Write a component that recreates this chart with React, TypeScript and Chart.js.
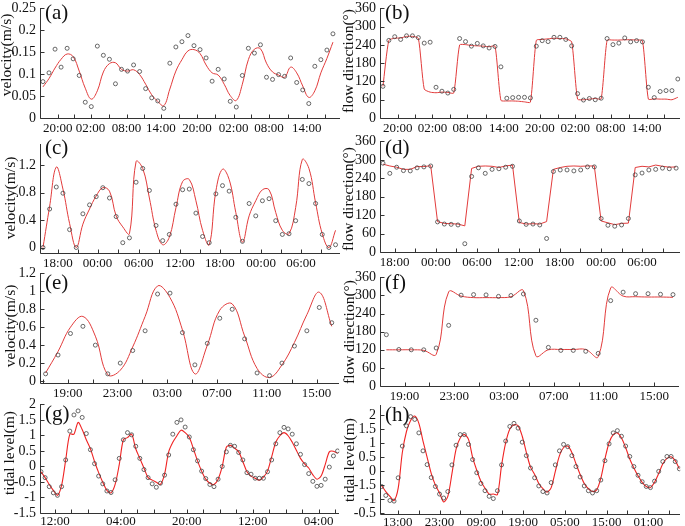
import React, { useEffect, useRef } from "react";
import { Chart, registerables } from "chart.js";
Chart.register(...registerables);

// ---------- (a) velocity ----------
const aObs = [0.083,0.103,0.157,0.116,0.159,0.135,0.097,0.036,0.026,0.164,0.143,0.134,0.078,0.111,0.107,0.121,0.106,0.067,0.046,0.039,0.022,0.125,0.162,0.174,0.188,0.165,0.156,0.137,0.084,0.111,0.089,0.038,0.025,0.097,0.159,0.148,0.167,0.093,0.088,0.099,0.095,0.137,0.081,0.064,0.033,0.118,0.133,0.155,0.192];
const aModel = [0.071,0.09,0.114,0.134,0.146,0.140,0.107,0.068,0.043,0.062,0.105,0.124,0.126,0.111,0.107,0.110,0.099,0.077,0.053,0.038,0.028,0.066,0.107,0.133,0.153,0.156,0.147,0.121,0.103,0.098,0.077,0.051,0.040,0.077,0.133,0.157,0.158,0.125,0.105,0.098,0.093,0.116,0.103,0.073,0.047,0.062,0.103,0.136,0.173];
const aTickPos = [2.44, 7.87, 13.83, 19.52, 25.49, 31.56, 37.42, 43.66];
const aTickLabels = ["20:00","02:00","08:00","14:00","20:00","02:00","08:00","14:00"];
const aYTicks = [0, 0.05, 0.1, 0.15, 0.2, 0.25];

// ---------- (b) flow direction ----------
const bObs = [104,255,267,258,270,270,264,246,249,101,88,82,94,261,251,236,245,237,230,235,168,65,67,68,68,66,236,254,251,265,265,258,237,80,59,64,60,65,261,241,246,263,250,254,250,101,67,87,90,90,128];
const bModel = [104,255,262,263,268,268,262,95,85,83,85,84,82,240,241,238,237,236,234,236,58,56,56,55,53,52,255,258,260,262,261,260,250,62,60,62,64,63,255,256,256,257,257,256,254,62,63,62,62,60,68];
const bTickPos = [2.5, 8.4, 14.3, 20.5, 26.6, 32.6, 38.6, 44.7];
const bTickLabels = ["20:00","02:00","08:00","14:00","20:00","02:00","08:00","14:00"];
const dirYTicks = [0, 60, 120, 180, 240, 300, 360];

// ---------- (c) velocity ----------
const cObs = [0.0,0.56,0.88,0.79,0.26,0.0,0.49,0.62,0.74,0.87,0.72,0.45,0.07,0.14,0.95,1.15,0.83,0.32,0.10,0.19,0.63,0.84,0.85,0.50,0.16,0.07,0.78,0.90,0.82,0.44,0.09,0.64,0.46,0.68,0.71,0.39,0.19,0.20,0.39,0.99,0.93,0.64,0.19,0.0,0.04];
const cModel = [0.0,0.6,1.17,0.85,0.35,0.0,0.34,0.56,0.75,0.87,0.82,0.46,0.30,0.20,1.25,1.15,0.72,0.25,0.04,0.15,0.58,0.96,0.99,0.68,0.25,0.04,0.82,1.14,0.99,0.51,0.08,0.46,0.68,0.84,0.84,0.51,0.25,0.20,0.58,1.28,1.15,0.65,0.20,0.0,0.25];
const cTickPos = [2.24, 8.2, 14.4, 20.6, 26.6, 32.8, 38.8];
const cTickLabels = ["18:00","00:00","06:00","12:00","18:00","00:00","06:00"];
const cYTicks = [0, 0.4, 0.8, 1.2];

// ---------- (d) flow direction ----------
const dObs = [289,256,276,265,264,274,277,280,98,91,90,88,27,246,274,256,269,271,276,279,101,90,91,88,44,262,267,267,264,267,277,277,109,87,84,88,109,251,257,267,269,273,271,273];
const dModel = [286,280,276,269,269,278,278,281,99,93,92,91,85,272,279,280,279,275,280,283,96,91,92,91,99,269,275,279,280,279,280,280,101,95,89,93,94,275,279,277,283,279,276,277];
const dTickPos = [1.7, 7.75, 13.8, 19.9, 25.9, 32.0, 38.0];
const dTickLabels = ["18:00","00:00","06:00","12:00","18:00","00:00","06:00"];

// ---------- (e) velocity ----------
const eObs = [0.08,0.29,0.53,0.61,0.40,0.08,0.20,0.34,0.56,0.97,0.98,0.54,0.18,0.42,0.70,0.80,0.47,0.09,0.06,0.20,0.39,0.56,0.82,0.65];
const eModel = [0.09,0.33,0.60,0.72,0.50,0.07,0.12,0.38,0.72,1.06,0.93,0.57,0.08,0.40,0.79,0.86,0.50,0.14,0.04,0.18,0.43,0.74,0.99,0.61];
const eTickPos = [1.78, 5.78, 9.78, 13.78, 17.78, 21.78];
const eTickLabels = ["19:00","23:00","03:00","07:00","11:00","15:00"];
const eYTicks = [0, 0.2, 0.4, 0.6, 0.8, 1, 1.2];

// ---------- (f) flow direction ----------
const fObs = [170,121,120,120,126,201,301,303,302,297,300,305,218,128,118,118,115,108,283,311,306,306,304,303];
const fModel = [120,120,120,118,105,312,298,293,293,293,296,316,100,120,121,121,121,97,325,298,296,295,295,294];
const fTickPos = [1.46, 5.45, 9.44, 13.43, 17.42, 21.5];
const fTickLabels = ["19:00","23:00","03:00","07:00","11:00","15:00"];

// ---------- (g) tidal level ----------
const gObs = [-0.17,-0.36,-0.65,-0.85,-0.93,-0.65,0.21,1.14,1.66,1.79,1.58,1.06,0.54,0.09,-0.31,-0.56,-0.79,-0.84,-0.43,0.26,0.86,1.09,1.02,0.65,0.26,-0.10,-0.36,-0.56,-0.67,-0.54,-0.28,0.37,1.04,1.42,1.50,1.27,0.95,0.54,0.18,-0.15,-0.39,-0.58,-0.65,-0.41,0.00,0.47,0.68,0.65,0.45,0.21,-0.20,-0.25,-0.38,-0.38,-0.38,-0.17,0.21,0.73,1.09,1.26,1.21,1.04,0.73,0.39,0.06,-0.23,-0.48,-0.64,-0.61,-0.41,-0.02,0.34,0.50];
const gModel = [-0.17,-0.36,-0.58,-0.77,-0.93,-0.61,0.21,1.04,1.04,1.42,1.19,0.86,0.57,0.16,-0.20,-0.51,-0.77,-0.85,-0.58,0.06,0.86,0.93,1.04,0.57,0.26,-0.05,-0.36,-0.44,-0.51,-0.58,-0.25,0.47,0.78,0.99,1.17,1.09,0.94,0.57,0.18,-0.15,-0.41,-0.54,-0.58,-0.41,0.00,0.62,0.68,0.59,0.47,0.16,-0.17,-0.31,-0.38,-0.44,-0.34,-0.15,0.31,0.78,0.99,1.09,0.99,0.78,0.52,0.26,0.08,-0.05,-0.27,-0.41,-0.31,0.06,0.47,0.49,0.42];
const gTickPos = [3.4, 19.4, 35.4, 51.4, 67.4];
const gTickLabels = ["12:00","04:00","20:00","12:00","04:00"];
const tideYTicks = [-1.5, -1, -0.5, 0, 0.5, 1, 1.5, 2];

// ---------- (h) tidal level ----------
const hObs = [-0.54,-0.86,-1.04,-1.06,-0.23,0.90,1.62,1.95,1.85,1.37,0.73,0.24,-0.22,-0.54,-0.81,-0.95,-0.72,0.23,0.93,1.31,1.31,0.96,0.42,-0.05,-0.43,-0.69,-0.89,-0.97,-0.69,0.23,1.08,1.60,1.71,1.54,1.04,0.56,0.12,-0.23,-0.52,-0.72,-0.77,-0.40,0.23,0.73,0.96,0.88,0.56,0.17,-0.20,-0.52,-0.69,-0.77,-0.69,-0.31,0.38,0.98,1.37,1.45,1.25,0.90,0.53,0.17,-0.14,-0.37,-0.54,-0.58,-0.35,0.00,0.35,0.53,0.53,0.35,0.09];
const hModel = [-0.51,-0.72,-0.89,-1.04,-0.60,0.67,1.42,1.81,1.97,1.71,1.08,0.50,-0.08,-0.49,-0.77,-1.09,-0.89,-0.08,0.79,1.19,1.31,1.14,0.50,0.04,-0.35,-0.60,-0.81,-0.81,-0.83,0.21,1.02,1.51,1.66,1.62,1.25,0.67,0.15,-0.11,-0.43,-0.62,-0.74,-0.58,0.00,0.56,0.85,0.90,0.67,0.27,-0.11,-0.43,-0.62,-0.72,-0.66,-0.25,0.44,1.02,1.31,1.37,1.19,0.85,0.44,0.12,-0.16,-0.39,-0.54,-0.58,-0.39,-0.08,0.27,0.46,0.52,0.38,0.09];
const hTickPos = [3.9, 14.0, 24.1, 34.2, 44.3, 54.4, 64.5];
const hTickLabels = ["13:00","23:00","09:00","19:00","05:00","15:00","01:00"];
const hYTickLabels = ["-0.5","-1","-1.5","0","0.5","1","1.5","2"];

const FONT = '"Liberation Serif", "Times New Roman", serif';
const TEXT = "#111";
const AXIS = "#333";

const PAD_L = 40, PAD_T = 10, PAD_R = 2, PAD_B = 24;

const PANELS = [
  { letter: "(a)", L: 40, R: 343, T: 6, B: 118, xMin: -0.49, xMax: 49.2, yMin: 0, yMax: 0.25, yTicks: aYTicks, yLabels: null, xPos: aTickPos, xLabels: aTickLabels, per: 1, obs: aObs, model: aModel, tension: 0.4, red: "#e23b3b", lw: 1, title: "velocity(m/s)", tx: 7, ty: 55, ldy: 5, xpad: 3 },
  { letter: "(b)", L: 380, R: 683, T: 6, B: 118, xMin: -0.5, xMax: 50.4, yMin: 0, yMax: 360, yTicks: dirYTicks, yLabels: null, xPos: bTickPos, xLabels: bTickLabels, per: 1, obs: bObs, model: bModel, tension: 0.2, red: "#e23b3b", lw: 1, title: "flow direction(°)", tx: 349, ty: 61, ldy: 5, xpad: 3 },
  { letter: "(c)", L: 40, R: 343, T: 142, B: 253, xMin: -0.45, xMax: 44.7, yMin: -0.08, yMax: 1.5, yTicks: cYTicks, yLabels: null, xPos: cTickPos, xLabels: cTickLabels, per: 1, obs: cObs, model: cModel, tension: 0.4, red: "#e23b3b", lw: 1, title: "velocity(m/s)", tx: 11, ty: 198, ldy: 4, xpad: 3 },
  { letter: "(d)", L: 380, R: 683, T: 139, B: 252, xMin: -0.44, xMax: 43.6, yMin: 0, yMax: 360, yTicks: dirYTicks, yLabels: null, xPos: dTickPos, xLabels: dTickLabels, per: 1, obs: dObs, model: dModel, tension: 0, red: "#e23b3b", lw: 1, title: "flow direction(°)", tx: 349, ty: 199, ldy: 7, xpad: 3 },
  { letter: "(e)", L: 40, R: 342, T: 271, B: 383, xMin: -0.45, xMax: 23.6, yMin: -0.022, yMax: 1.2, yTicks: eYTicks, yLabels: null, xPos: eTickPos, xLabels: eTickLabels, per: 1, obs: eObs, model: eModel, tension: 0.4, red: "#e23b3b", lw: 1, title: "velocity(m/s)", tx: 11, ty: 326, ldy: 10, xpad: 3 },
  { letter: "(f)", L: 380, R: 682, T: 275, B: 386, xMin: -0.51, xMax: 23.5, yMin: 0, yMax: 360, yTicks: dirYTicks, yLabels: null, xPos: fTickPos, xLabels: fTickLabels, per: 1, obs: fObs, model: fModel, tension: 0.4, red: "#e23b3b", lw: 1, title: "flow direction(°)", tx: 350, ty: 332, ldy: 6, xpad: 3 },
  { letter: "(g)", L: 40, R: 342, T: 402, B: 513, xMin: -0.24, xMax: 72.4, yMin: -1.5, yMax: 2, yTicks: tideYTicks, yLabels: null, xPos: gTickPos, xLabels: gTickLabels, per: 3, obs: gObs, model: gModel, tension: 0.3, red: "#f02323", lw: 1.1, title: "tidal level(m)", tx: 10, ty: 453, ldy: 10, xpad: 1 },
  { letter: "(h)", L: 380, R: 683, T: 403, B: 514, xMin: -0.4, xMax: 72.2, yMin: -1.52, yMax: 2.35, yTicks: tideYTicks, yLabels: hYTickLabels, xPos: hTickPos, xLabels: hTickLabels, per: 1, obs: hObs, model: hModel, tension: 0.3, red: "#f02323", lw: 1.1, title: "tidal level(m)", tx: 350, ty: 460, ldy: 10, xpad: 1 },
];

function buildMarks(majors: number[], per: number, min: number, max: number) {
  const out: number[] = [];
  const avg = (majors[majors.length - 1] - majors[0]) / (majors.length - 1);
  const step = avg / (per + 1);
  let v = majors[0] - step;
  while (v > min) { out.push(v); v -= step; }
  for (let i = 0; i < majors.length; i++) {
    out.push(majors[i]);
    const next = i < majors.length - 1 ? majors[i + 1] : majors[i] + avg;
    const st = (next - majors[i]) / (per + 1);
    for (let k = 1; k <= per; k++) {
      const m = majors[i] + st * k;
      if (m < max) out.push(m);
    }
  }
  return out;
}

const decor = {
  id: "decor",
  afterDraw(chart: any, _a: any, opts: any) {
    const { ctx, chartArea: ca } = chart;
    const xs = chart.scales.x, ys = chart.scales.y;
    ctx.save();
    ctx.strokeStyle = AXIS;
    ctx.lineWidth = 1;
    const lx = Math.round(ca.left) + 0.5;
    const by = Math.round(ca.bottom) + 0.5;
    ctx.beginPath();
    ctx.moveTo(lx, Math.round(ca.top));
    ctx.lineTo(lx, by);
    ctx.lineTo(Math.round(ca.right), by);
    ys.ticks.forEach((t: any) => {
      const y = Math.round(ys.getPixelForValue(t.value)) + 0.5;
      ctx.moveTo(lx, y); ctx.lineTo(lx + 4, y);
    });
    (opts.marks || []).forEach((v: number) => {
      const x = Math.round(xs.getPixelForValue(v)) + 0.5;
      ctx.moveTo(x, by); ctx.lineTo(x, by - 4);
    });
    ctx.stroke();
    ctx.fillStyle = TEXT;
    ctx.font = `21px ${FONT}`;
    ctx.textAlign = "left";
    ctx.textBaseline = "middle";
    ctx.fillText(opts.letter, ca.left + 5, ca.top + opts.ldy);
    ctx.font = `15.5px ${FONT}`;
    ctx.translate(opts.tx, opts.ty);
    ctx.rotate(-Math.PI / 2);
    ctx.textAlign = "center";
    ctx.fillText(opts.title, 0, 0);
    ctx.restore();
  },
};

const fmt = (v: number) => String(Math.round(v * 1000) / 1000);

function Panel({ p }: { p: any }) {
  const ref = useRef<HTMLCanvasElement | null>(null);
  const left = p.L - PAD_L;
  const top = p.T - PAD_T;
  const w = p.R - p.L + PAD_L + PAD_R;
  const h = p.B - p.T + PAD_T + PAD_B;
  useEffect(() => {
    const marks = buildMarks(p.xPos, p.per, p.xMin, p.xMax);
    const chart = new Chart(ref.current as HTMLCanvasElement, {
      type: "line",
      data: {
        datasets: [
          {
            data: p.obs.map((v: number, i: number) => ({ x: i, y: v })),
            showLine: false,
            pointRadius: 2,
            pointBorderWidth: 0.8,
            pointBorderColor: "#444",
            pointBackgroundColor: "rgba(255,255,255,0)",
          },
          {
            data: p.model.map((v: number, i: number) => ({ x: i, y: v })),
            borderColor: p.red,
            borderWidth: p.lw,
            pointRadius: 0,
            tension: p.tension,
            fill: false,
          },
        ],
      },
      options: {
        animation: false,
        responsive: false,
        devicePixelRatio: 1,
        events: [],
        layout: { padding: { left: 0, right: PAD_R, top: PAD_T, bottom: 0 } },
        plugins: {
          legend: { display: false },
          tooltip: { enabled: false },
          decor: { marks, letter: p.letter, ldy: p.ldy, title: p.title, tx: p.tx - left, ty: p.ty - top },
        } as any,
        scales: {
          x: {
            type: "linear",
            min: p.xMin,
            max: p.xMax,
            grid: { display: false, drawTicks: false },
            border: { display: false },
            afterBuildTicks: (s: any) => { s.ticks = p.xPos.map((v: number) => ({ value: v })); },
            afterFit: (s: any) => { s.height = PAD_B; },
            ticks: {
              autoSkip: false, maxRotation: 0, minRotation: 0, padding: p.xpad,
              color: TEXT, font: { family: FONT, size: 13 },
              callback: (_v: any, i: number) => p.xLabels[i],
            },
          },
          y: {
            type: "linear",
            min: p.yMin,
            max: p.yMax,
            grid: { display: false, drawTicks: false },
            border: { display: false },
            afterBuildTicks: (s: any) => { s.ticks = p.yTicks.map((v: number) => ({ value: v })); },
            afterFit: (s: any) => { s.width = PAD_L; },
            ticks: {
              autoSkip: false,
              padding: 4, color: TEXT, font: { family: FONT, size: 14 },
              callback: (_v: any, i: number) => (p.yLabels ? p.yLabels[i] : fmt(Number(p.yTicks[i]))),
            },
          },
        },
      },
      plugins: [decor],
    } as any);
    return () => chart.destroy();
  }, []);
  return (
    <canvas
      ref={ref}
      width={w}
      height={h}
      style={{ position: "absolute", left, top, width: w, height: h }}
    />
  );
}

export default function App() {
  return (
    <div style={{ position: "absolute", left: 0, top: 0, width: 685, height: 526, overflow: "hidden", background: "#fff" }}>
      {PANELS.map((p) => (
        <Panel key={p.letter} p={p} />
      ))}
    </div>
  );
}
